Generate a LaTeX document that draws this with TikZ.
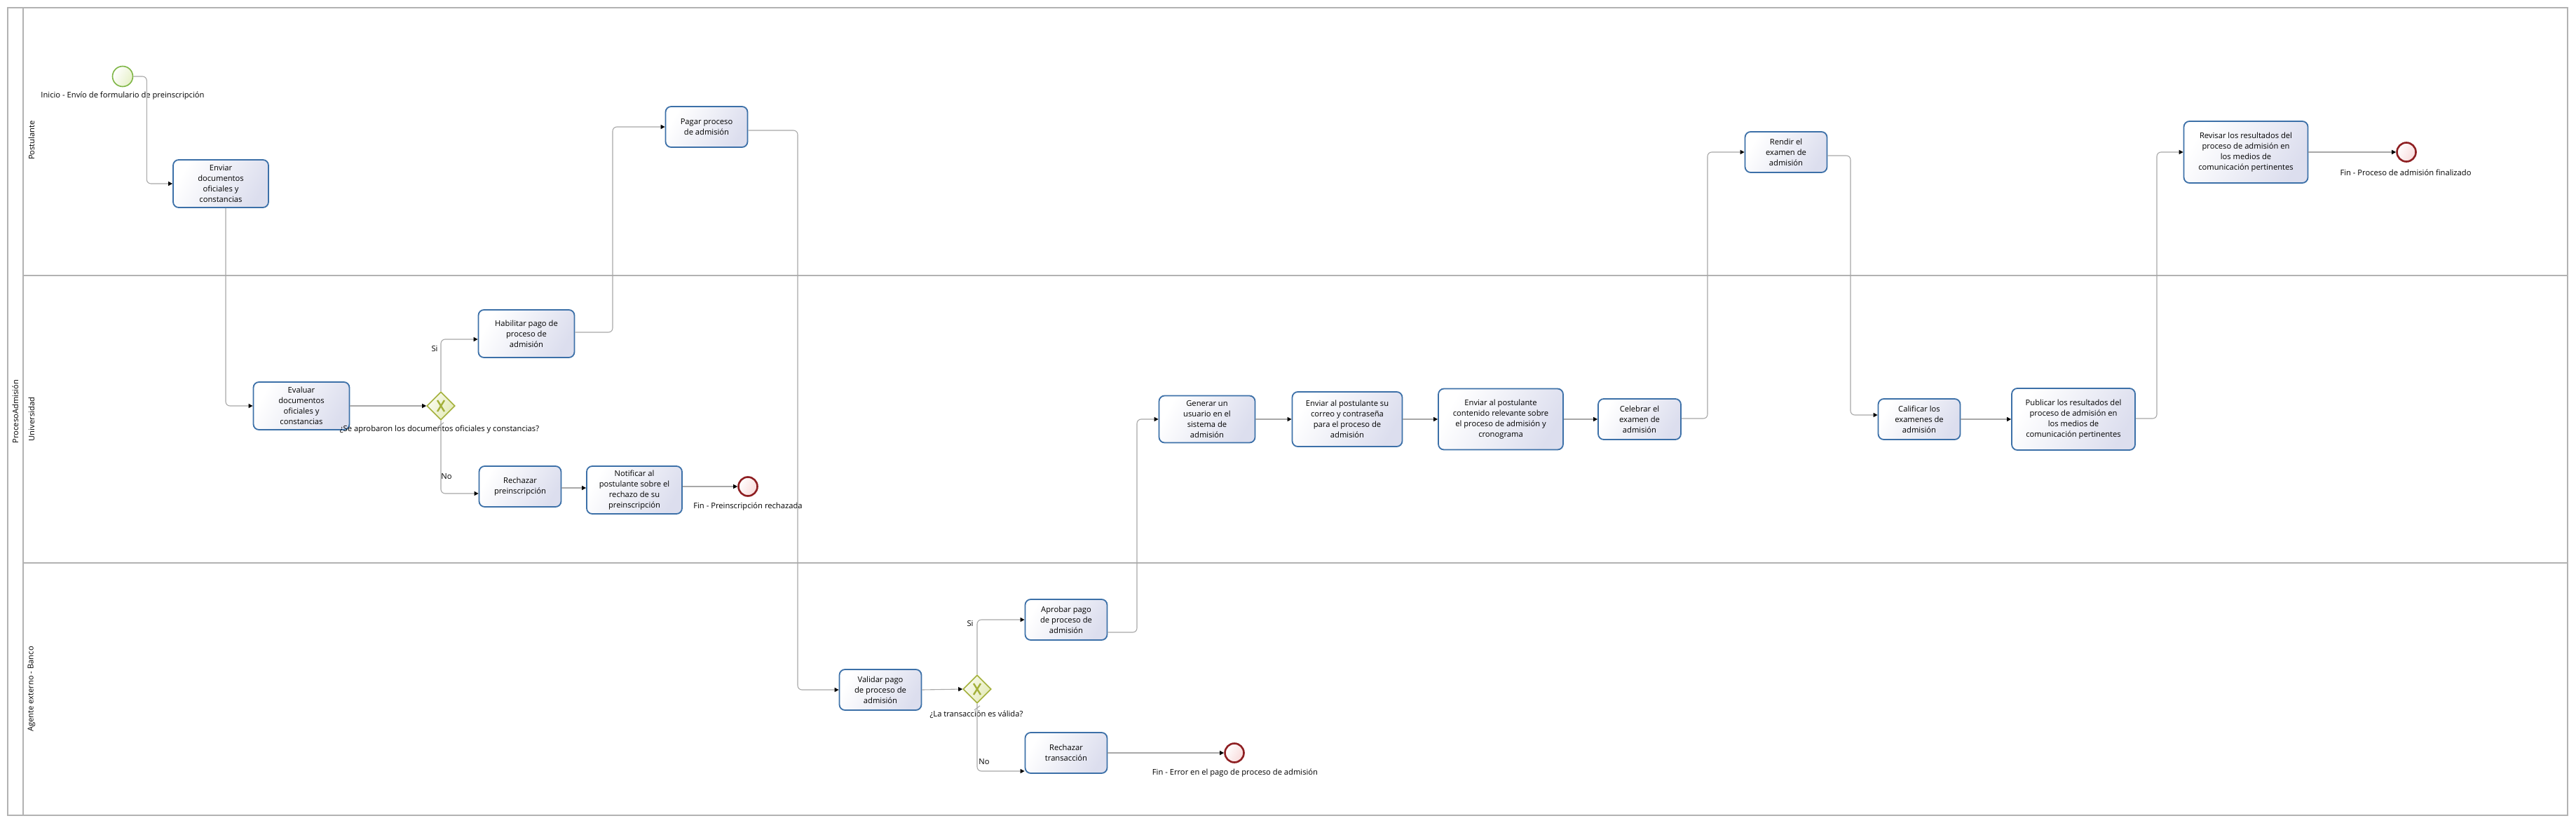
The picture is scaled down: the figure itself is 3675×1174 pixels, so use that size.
\documentclass[tikz,border=0pt]{standalone}
\usepackage{fontspec}
\setmainfont{Open Sans}
\usetikzlibrary{arrows.meta,calc,shapes.geometric}
\definecolor{taskblue}{HTML}{3C70A8}
\definecolor{tasklav}{HTML}{DCDEEE}
\definecolor{lanegray}{HTML}{B2B2B2}
\definecolor{flowgray}{HTML}{A8A8A8}
\definecolor{startgreen}{HTML}{7DB544}
\definecolor{startfill}{HTML}{E6F0C8}
\definecolor{endred}{HTML}{8E1F22}
\definecolor{endfill}{HTML}{F8DADA}
\definecolor{gwolive}{HTML}{A3B03A}
\definecolor{gwfill}{HTML}{E3EAB5}
\begin{document}
\begin{tikzpicture}[x=1pt,y=-1pt,
  txt/.style={font=\fontsize{11.2}{15}\selectfont, align=center, text=black},
  task/.style={txt, draw=taskblue, line width=1.8pt, rounded corners=8pt,
    left color=white, right color=tasklav, shading angle=60, inner sep=0pt},
  startev/.style={circle, draw=startgreen, line width=1.6pt, minimum size=29pt, inner sep=0pt,
    left color=white, right color=startfill, shading angle=60},
  endev/.style={circle, draw=endred, line width=2.6pt, minimum size=27pt, inner sep=0pt,
    left color=white, right color=endfill, shading angle=60},
  gw/.style={diamond, draw=gwolive, line width=1.6pt, minimum width=40pt, minimum height=40pt,
    inner sep=0pt, left color=white!80!gwfill, right color=gwfill, shading angle=60},
  flow/.style={draw=flowgray, line width=1.1pt, rounded corners=6pt,
    -{Triangle[length=6pt,width=6pt,color=black]}},
  lbl/.style={txt, inner sep=0pt},
  lanelbl/.style={txt, rotate=90, inner sep=0pt}
]
\useasboundingbox (0,0) rectangle (3675,1174);
% pool and lanes
\draw[lanegray, line width=1.4pt] (11,11) rectangle (3663,1163);
\draw[lanegray, line width=1.4pt] (33,11) -- (33,1163);
\draw[lanegray, line width=2.4pt] (33,393) -- (3663,393);
\draw[lanegray, line width=2.4pt] (33,803) -- (3663,803);
\node[lanelbl] (pool) at (22,587) {ProcesoAdmisión};
\node[lanelbl] (lane1) at (45,200) {Postulante};
\node[lanelbl] (lane2) at (45,598) {Universidad};
\node[lanelbl] (lane3) at (45,983) {Agente externo - Banco};

% events
\node[startev] (start) at (175,109) {};
\node[lbl] (startlbl) at (175,137) {Inicio - Envío de formulario de preinscripción};
\node[endev] (end1) at (1067,694) {};
\node[lbl] (end1lbl) at (1067,723) {Fin - Preinscripción rechazada};
\node[endev] (end2) at (1761,1074) {};
\node[lbl] (end2lbl) at (1762,1103) {Fin - Error en el pago de proceso de admisión};
\node[endev] (end3) at (3433,217) {};
\node[lbl] (end3lbl) at (3432,246) {Fin - Proceso de admisión finalizado};

% tasks
\node[task, minimum width=136pt, minimum height=68pt] (enviar) at (315,262) {Enviar\\documentos\\oficiales y\\constancias};
\node[task, minimum width=117pt, minimum height=58pt] (pagar) at (1008,181) {Pagar proceso\\de admisión};
\node[task, minimum width=137pt, minimum height=68pt] (evaluar) at (430,579) {Evaluar\\documentos\\oficiales y\\constancias};
\node[task, minimum width=137pt, minimum height=68pt] (habilitar) at (751,476) {Habilitar pago de\\proceso de\\admisión};
\node[task, minimum width=117pt, minimum height=58pt] (rechazarP) at (742,694) {Rechazar\\preinscripción};
\node[task, minimum width=136pt, minimum height=68pt] (notificar) at (905,699) {Notificar al\\postulante sobre el\\rechazo de su\\preinscripción};
\node[task, minimum width=117pt, minimum height=58pt] (validar) at (1256,984) {Validar pago\\de proceso de\\admisión};
\node[task, minimum width=117pt, minimum height=58pt] (aprobar) at (1521,884) {Aprobar pago\\de proceso de\\admisión};
\node[task, minimum width=117pt, minimum height=58pt] (rechazarT) at (1521,1074) {Rechazar\\transacción};
\node[task, minimum width=137pt, minimum height=67pt] (generar) at (1722,598) {Generar un\\usuario en el\\sistema de\\admisión};
\node[task, minimum width=157pt, minimum height=78pt] (correo) at (1922,598) {Enviar al postulante su\\correo y contraseña\\para el proceso de\\admisión};
\node[task, minimum width=178pt, minimum height=87pt] (contenido) at (2141,598) {Enviar al postulante\\contenido relevante sobre\\el proceso de admisión y\\cronograma};
\node[task, minimum width=118pt, minimum height=58pt] (celebrar) at (2339,598) {Celebrar el\\examen de\\admisión};
\node[task, minimum width=117pt, minimum height=58pt] (rendir) at (2548,217) {Rendir el\\examen de\\admisión};
\node[task, minimum width=117pt, minimum height=58pt] (calificar) at (2738,598) {Calificar los\\examenes de\\admisión};
\node[task, minimum width=176pt, minimum height=88pt] (publicar) at (2958,598) {Publicar los resultados del\\proceso de admisión en\\los medios de\\comunicación pertinentes};
\node[task, minimum width=177pt, minimum height=88pt] (revisar) at (3204,217) {Revisar los resultados del\\proceso de admisión en\\los medios de\\comunicación pertinentes};

% gateways
\node[gw] (gw1) at (629,579) {};
\draw[gwolive, line width=2.4pt] ($(gw1)+(-5,-8)$) -- ($(gw1)+(5,8)$) ($(gw1)+(5,-8)$) -- ($(gw1)+(-5,8)$);
\node[lbl] (gw1lbl) at (627,613) {¿Se aprobaron los documentos oficiales y constancias?};
\node[gw] (gw2) at (1394,983) {};
\draw[gwolive, line width=2.4pt] ($(gw2)+(-5,-8)$) -- ($(gw2)+(5,8)$) ($(gw2)+(5,-8)$) -- ($(gw2)+(-5,8)$);
\node[lbl] (gw2lbl) at (1393,1019) {¿La transacción es válida?};

% flows
\draw[flow] (start.east) -- ++(19,0) |- (enviar.west);
\draw[flow] ($(enviar.south)+(7,0)$) |- (evaluar.west);
\draw[flow] (evaluar.east) -- (gw1.west);
\draw[flow] (gw1.north) |- ($(habilitar.west)+(0,8)$);
\node[lbl] (si1) at (620,497) {Si};
\draw[flow] ($(habilitar.east)+(0,-2)$) -- (874,474) |- (pagar.west);
\draw[flow] (gw1.south) |- ($(rechazarP.west)+(0,10)$);
\draw[flowgray, line width=1.1pt] ($(gw1.south)+(-4,9)$) -- ($(gw1.south)+(4,3)$);
\node[lbl] (no1) at (637,680) {No};
\draw[flow] ($(rechazarP.east)+(0,2)$) -- ($(notificar.west)+(0,-3)$);
\draw[flow] ($(notificar.east)+(0,-5)$) -- (end1.west);
\draw[flow] ($(pagar.east)+(0,5)$) -- (1138,186) |- (validar.west);
\draw[flow] (validar.east) -- (gw2.west);
\draw[flow] (gw2.north) |- (aprobar.west);
\node[lbl] (si2) at (1384,889) {Si};
\draw[flow] (gw2.south) |- ($(rechazarT.west)+(0,26)$);
\draw[flowgray, line width=1.1pt] ($(gw2.south)+(-4,9)$) -- ($(gw2.south)+(4,3)$);
\node[lbl] (no2) at (1404,1087) {No};
\draw[flow] (rechazarT.east) -- (end2.west);
\draw[flow] ($(aprobar.east)+(0,18)$) -- (1622,902) |- (generar.west);
\draw[flow] (generar.east) -- (correo.west);
\draw[flow] (correo.east) -- (contenido.west);
\draw[flow] (contenido.east) -- (celebrar.west);
\draw[flow] ($(celebrar.east)+(0,-1)$) -- (2436,597) |- (rendir.west);
\draw[flow] ($(rendir.east)+(0,5)$) -- (2640,222) |- ($(calificar.west)+(0,-6)$);
\draw[flow] (calificar.east) -- (publicar.west);
\draw[flow] ($(publicar.east)+(0,-1)$) -- (3077,597) |- (revisar.west);
\draw[flow] (revisar.east) -- (end3.west);
\end{tikzpicture}
\end{document}
